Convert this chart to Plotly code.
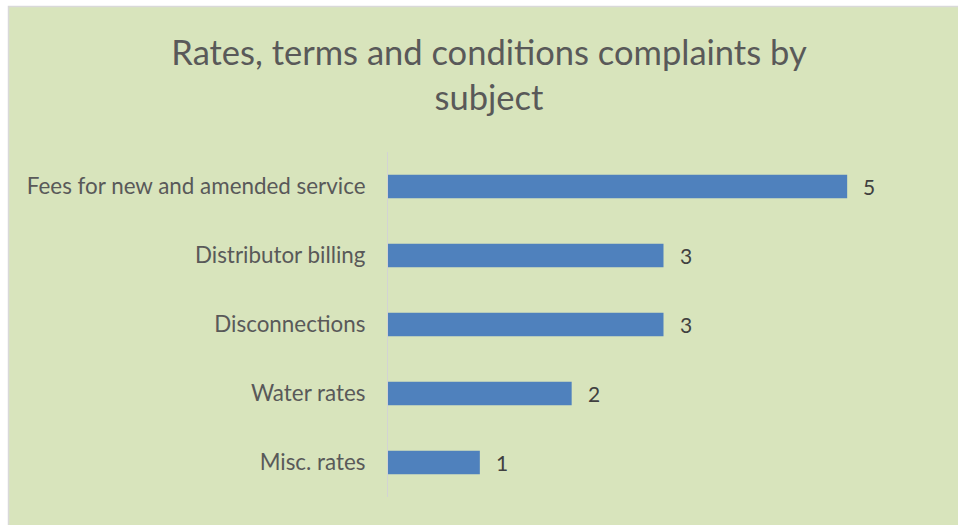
import plotly.graph_objects as go

categories = ["Fees for new and amended service", "Distributor billing", "Disconnections", "Water rates", "Misc. rates"]
values = [5, 3, 3, 2, 1]
title_text = "Rates, terms and conditions complaints by<br>subject"

W, H = 958, 525
L, R, T, B = 388, 19, 152, 28

fig = go.Figure(go.Bar(
    y=categories, x=values, orientation="h",
    marker=dict(color="#4f81bd", line=dict(width=0)),
    width=0.34,
    cliponaxis=False,
    hoverinfo="skip",
))

for c, v in zip(categories, values):
    fig.add_annotation(x=v, y=c, text=str(v), showarrow=False, xanchor="left",
                       xshift=14, font=dict(family="Lato", size=21, color="#404040"))

def px_x(p):
    return (p - L) / (W - L - R)

def px_y(p):
    return 1 - (p - T) / (H - T - B)

fig.add_shape(type="rect", xref="paper", yref="paper", layer="below",
              x0=px_x(8.5), x1=px_x(975), y0=px_y(540), y1=px_y(6.5),
              fillcolor="#d8e4bc", line=dict(color="#d9d9d9", width=1.5))

fig.update_layout(
    width=W, height=H,
    margin=dict(l=L, r=R, t=T, b=B),
    paper_bgcolor="white", plot_bgcolor="rgba(0,0,0,0)",
    showlegend=False,
    title=dict(text=title_text, x=489 / W, xanchor="center",
               y=1 - 65 / H, yanchor="middle",
               font=dict(family="Lato", size=34.5, color="#595959")),
    xaxis=dict(range=[0, 6], visible=False, fixedrange=True),
    yaxis=dict(autorange="reversed", categoryorder="array", categoryarray=categories,
               showline=True, linecolor="#d3d3d3", linewidth=1, ticks="",
               ticklabelstandoff=17, fixedrange=True,
               tickfont=dict(family="Lato", size=22.4, color="#595959"),
               showgrid=False, zeroline=False),
    bargap=0.66,
)

fig.write_html("out.html", config={"displayModeBar": False},
               post_script="document.body.style.margin='0';document.body.style.overflow='hidden';")
